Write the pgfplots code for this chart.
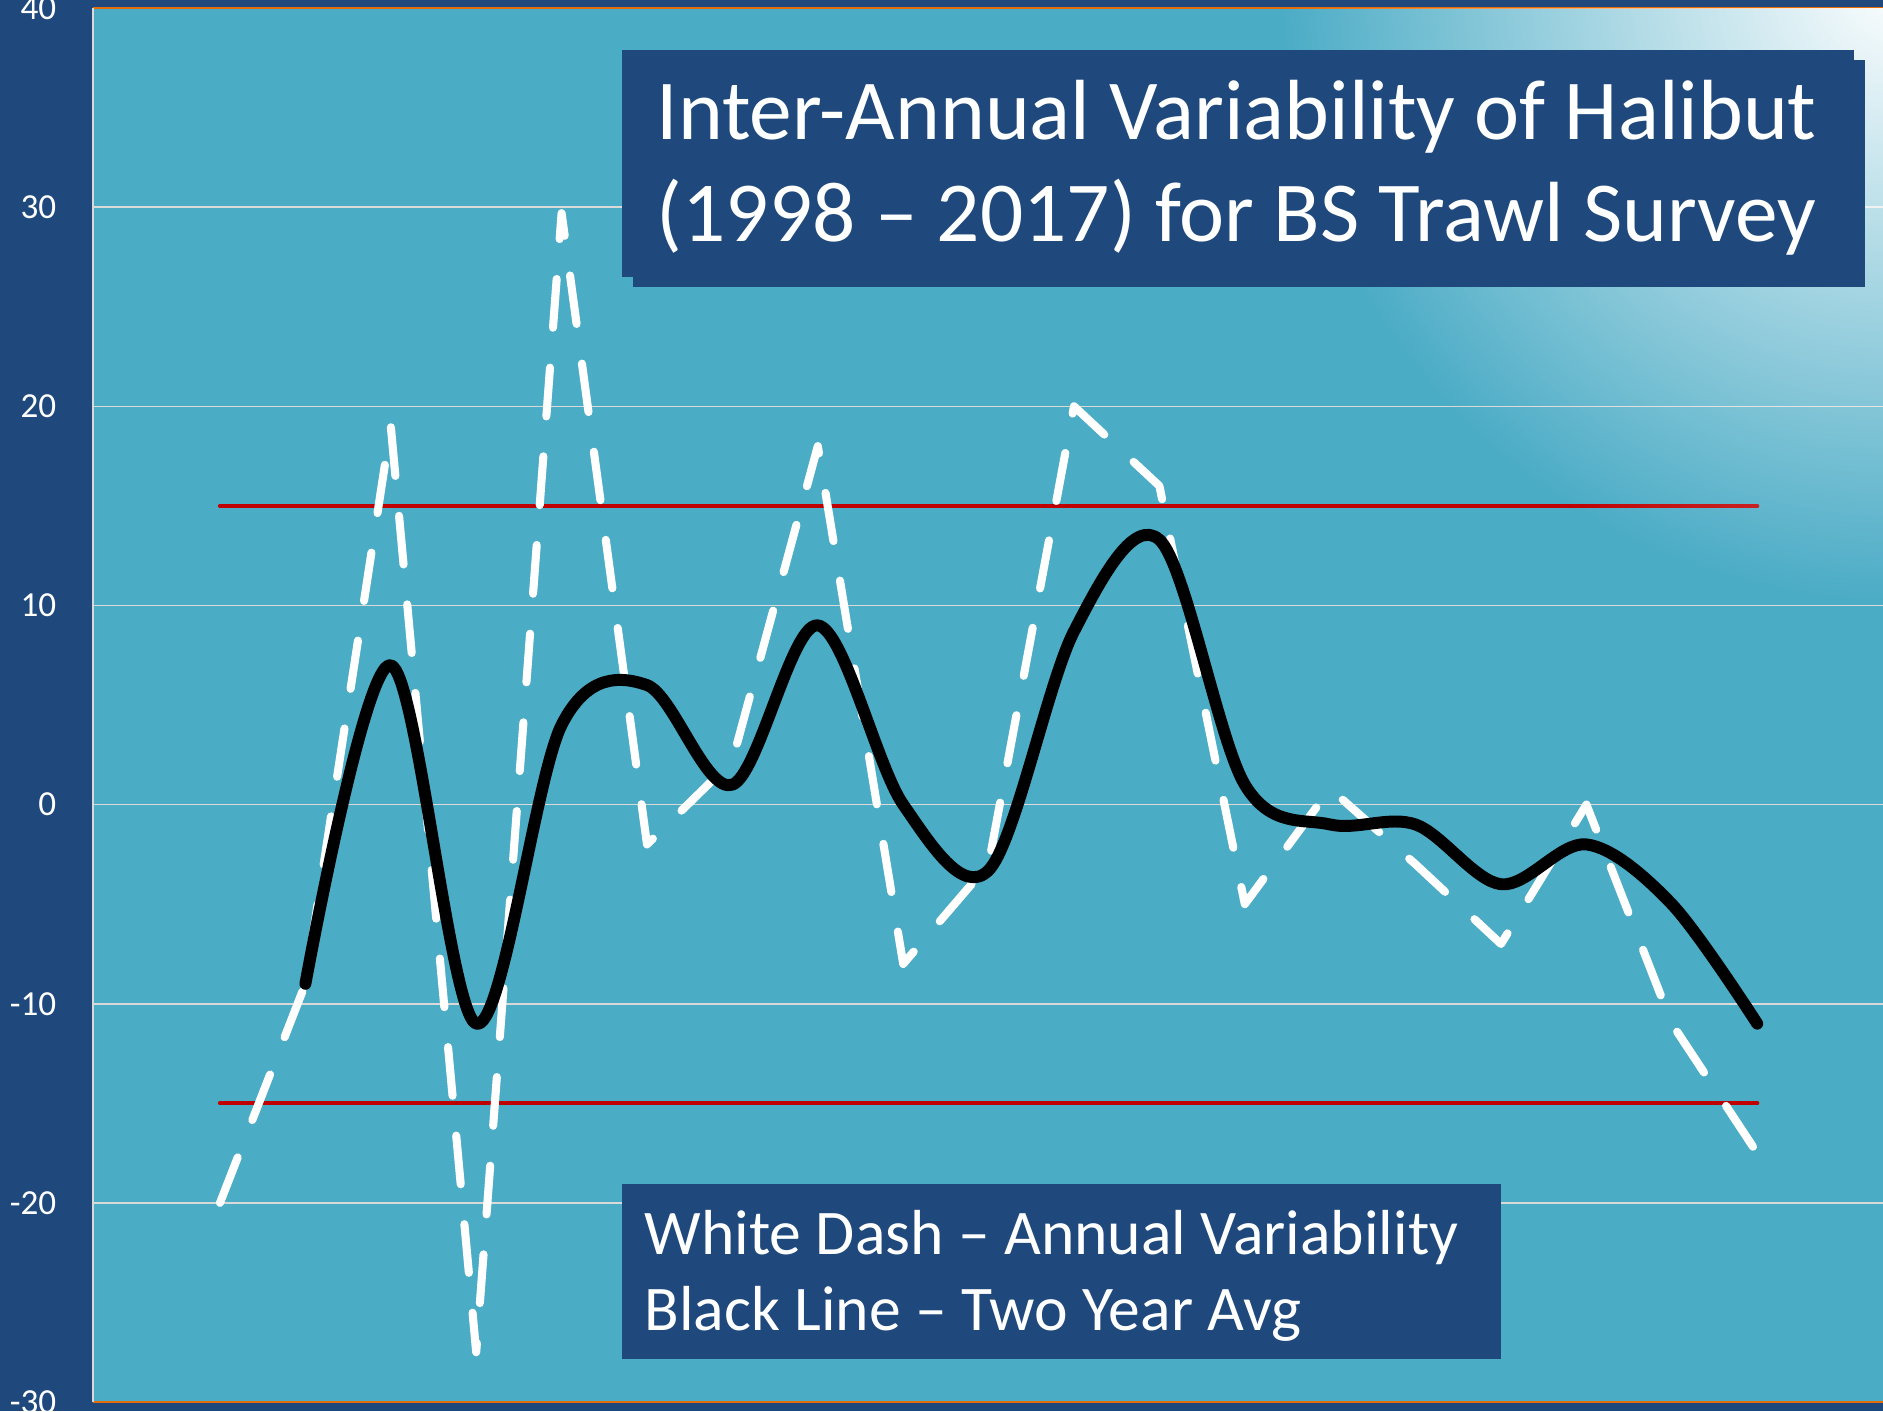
\documentclass[border=0pt]{standalone}
\usepackage{pgfplots}
\pgfplotsset{compat=1.18}
\usepackage{fontspec}
\setmainfont{Carlito}
\usetikzlibrary{fadings}
\definecolor{dkblue}{HTML}{1F497D}
\definecolor{tealbg}{HTML}{4BACC6}
\definecolor{gridc}{HTML}{D9D9D9}
\definecolor{redl}{HTML}{C00000}
\definecolor{orangel}{HTML}{E46C0A}
\tikzfading[name=glowfade, inner color=transparent!0, outer color=transparent!100]
\begin{document}
\begin{tikzpicture}
\useasboundingbox (0,0) rectangle (188.3mm,141.1mm);
\fill[dkblue] (0,0) rectangle (188.3mm,141.1mm);
\begin{axis}[
  at={(9.3mm,0.9mm)}, anchor=south west,
  x=8.54mm, y=1.9914mm,
  xmin=-0.487, xmax=20.6, ymin=-30, ymax=40,
  axis background/.style={fill=tealbg},
  separate axis lines,
  x axis line style={orangel, line width=0.8pt},
  y axis line style={gridc, line width=0.6pt},
  xtick=\empty,
  ytick={-30,-20,-10,0,10,20,30,40},
  yticklabels={-30,-20,-10,0,10,20,30,40},
  yticklabel style={font=\fontsize{10}{12}\selectfont, text=white, anchor=east, inner sep=0pt, xshift=-3.6mm},
  major tick length=0pt,
  ymajorgrids,
  major grid style={gridc, line width=0.45pt},
]
\addplot[redl, line width=1.2pt, line cap=round] coordinates {(1,15) (19,15)};
\addplot[redl, line width=1.2pt, line cap=round] coordinates {(1,-15) (19,-15)};
\addplot[white, line width=2.3pt, line cap=round, line join=round, dash pattern=on 13.9pt off 11.4pt] coordinates {
(1,-20) (2,-9) (3,19) (4,-27.5) (5,29.7) (6,-2) (7,2.2) (8,18) (9,-8) (10,-3)
(11,20) (12,16) (13,-5) (14,0.8) (15,-3) (16,-7) (17,0) (18,-11) (19,-17.5)};
\addplot[black, line width=3.4pt, line cap=round, line join=round, smooth, tension=0.55] coordinates {
(2,-9) (3,7) (4,-11) (5,4) (6,6) (7,1) (8,9) (9,0) (10,-3.3)
(11,8.7) (12,13.3) (13,1) (14,-1) (15,-1) (16,-4) (17,-2) (18,-5) (19,-11)};
\end{axis}
\begin{scope}
\clip (9.5mm,0.9mm) rectangle (188.3mm,140.2mm);
\fill[white, path fading=glowfade] (190mm,143mm) circle (62mm);
\end{scope}
% title boxes
\fill[dkblue] (63.3mm,112.4mm) rectangle (186.5mm,135.1mm);
\fill[dkblue] (62.2mm,113.4mm) rectangle (185.4mm,136.1mm);
\node[anchor=base west, text=white, font=\fontsize{24.3}{29}\selectfont, inner sep=0pt] at (65.6mm,127.1mm) {Inter-Annual Variability of Halibut};
\node[anchor=base west, text=white, font=\fontsize{24.3}{29}\selectfont, inner sep=0pt] at (65.6mm,116.9mm) {(1998 – 2017) for BS Trawl Survey};
% legend box
\fill[dkblue] (62.2mm,5.2mm) rectangle (150.1mm,22.7mm);
\node[anchor=base west, text=white, font=\fontsize{18.1}{22}\selectfont, inner sep=0pt] at (64.4mm,15.7mm) {White Dash – Annual Variability};
\node[anchor=base west, text=white, font=\fontsize{18.1}{22}\selectfont, inner sep=0pt] at (64.4mm,8.1mm) {Black Line – Two Year Avg};
\end{tikzpicture}
\end{document}
